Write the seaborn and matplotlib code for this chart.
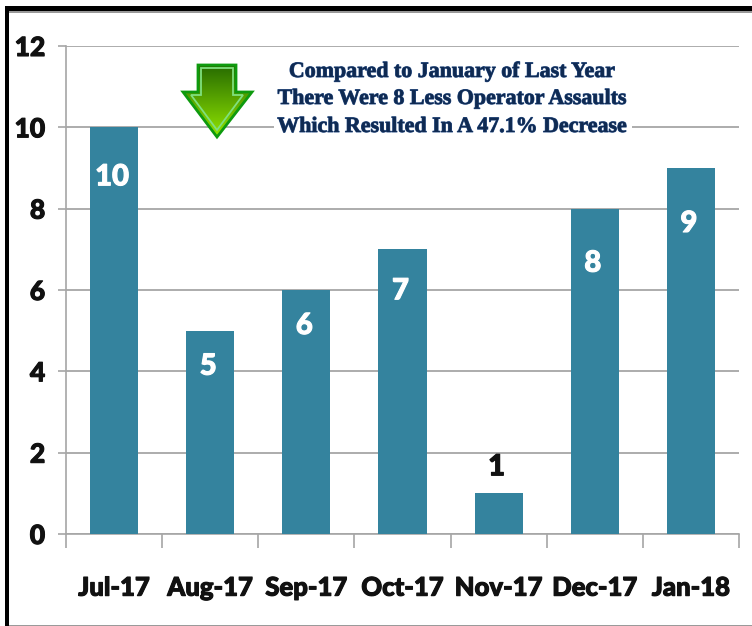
import numpy as np
import pandas as pd
import matplotlib
matplotlib.use("Agg")
import matplotlib.pyplot as plt
import matplotlib.patheffects as pe
from matplotlib.patches import Polygon, Rectangle
import seaborn as sns

months = ["Jul-17", "Aug-17", "Sep-17", "Oct-17", "Nov-17", "Dec-17", "Jan-18"]
assaults = [10, 5, 6, 7, 1, 8, 9]
yticks = [0, 2, 4, 6, 8, 10, 12]
note = ["Compared to January of Last Year",
        "There Were 8 Less Operator Assaults",
        "Which Resulted In A 47.1% Decrease"]

sns.set_theme(style="white")
plt.rcParams["font.family"] = ["Lato", "DejaVu Sans"]

W, H = 752, 626
fig = plt.figure(figsize=(W / 100, H / 100), dpi=100, facecolor="white")
ax = fig.add_axes([66 / W, (H - 534) / H, (739 - 66) / W, (534 - 46) / H])

df = pd.DataFrame({"month": months, "assaults": assaults})
sns.barplot(data=df, x="month", y="assaults", color="#34839E", saturation=1,
            width=0.5, ax=ax, zorder=3, linewidth=0)
ax.set_xlim(-0.5, 6.5)
ax.set_ylim(0, 12)
ax.set_xlabel("")
ax.set_ylabel("")
ax.set_yticks(yticks)
ax.set_yticklabels([str(v) for v in yticks], fontsize=19, fontweight="black", color="#111111")
ax.set_xticks(range(len(months)))
ax.set_xticklabels(months, fontsize=18.5, fontweight="black", color="#111111")
for lab in ax.get_xticklabels() + ax.get_yticklabels():
    lab.set_path_effects([pe.withStroke(linewidth=0.8, foreground="#111111")])
ax.grid(axis="y", color="#a6a6a6", lw=1.3, zorder=0)
ax.set_axisbelow(True)
for s in ["top", "right"]:
    ax.spines[s].set_visible(False)
for s in ["left", "bottom"]:
    ax.spines[s].set_color("#a6a6a6")
    ax.spines[s].set_linewidth(1.2)
ax.tick_params(axis="y", length=6, width=1.2, color="#a6a6a6", left=True, pad=9)
ax.tick_params(axis="x", which="major", length=0, pad=30)
ax.set_xticks(np.arange(-0.5, 7, 1), minor=True)
ax.tick_params(axis="x", which="minor", length=10, width=1.2, color="#a6a6a6", bottom=True)

# value labels: offset below the bar top, as placed by hand in the reference
drop_px = {10: 50, 5: 36, 6: 36, 7: 42, 8: 55, 9: 56, 1: -26}
for i, v in enumerate(assaults):
    col = "#111111" if v == 1 else "white"
    t = ax.annotate(str(v), (i, v), xytext=(-2, -drop_px[v]), textcoords="offset pixels",
                    ha="center", va="center", fontsize=21, fontweight="black",
                    color=col, zorder=5)
    t.set_path_effects([pe.withStroke(linewidth=0.8, foreground=col)])

# annotation text
to_fig = lambda x, y: (x / W, 1 - y / H)
for txt, yy in zip(note, [72, 99, 127]):
    x, y = to_fig(453, yy)
    t = fig.text(x, y, txt, ha="center", va="center", fontsize=15.8, fontweight="bold",
                 family=["Liberation Serif", "DejaVu Serif"], color="#0F2A52", zorder=10,
                 bbox=dict(facecolor="white", edgecolor="none", pad=2.5) if yy == 127 else None)
    t.set_path_effects([pe.withStroke(linewidth=0.7, foreground="#2A4F86")])

# gradient arrow
overlay = fig.add_axes([0, 0, 1, 1], facecolor="none")
overlay.set_xlim(0, W)
overlay.set_ylim(H, 0)
overlay.axis("off")
outer = [(198, 65), (236, 65), (236, 92), (252, 92), (217, 137), (183, 92), (198, 92)]
grad = np.linspace(0, 1, 128)[:, None, None] * np.array([[[0.42, 0.48, 0.0]]]) + np.array([[[0.15, 0.42, 0.0]]])
im = overlay.imshow(grad, extent=(183, 253, 137, 65), aspect="auto", zorder=2)
im.set_clip_path(Polygon(outer, transform=overlay.transData))
overlay.set_xlim(0, W)
overlay.set_ylim(H, 0)
overlay.add_patch(Polygon(outer, closed=True, fill=False, ec="#0E9A0E", lw=2, joinstyle="miter", zorder=3))
inner = [(201, 68), (233, 68), (233, 95), (243, 95), (217, 130), (191, 95), (201, 95)]
overlay.add_patch(Polygon(inner, closed=True, fill=False, ec="#7FE07F", lw=1.3, joinstyle="miter", zorder=3))

# picture frame
overlay.add_patch(Rectangle((5, 6), 4, 620, fc="black", ec="none", zorder=6))
overlay.add_patch(Rectangle((5, 6), 747, 5, fc="black", ec="none", zorder=6))
overlay.add_patch(Rectangle((9, 11), 743, 1.5, fc="#999999", ec="none", zorder=6))
overlay.add_patch(Rectangle((9, 624.5), 743, 1.5, fc="#9a9a9a", ec="none", zorder=6))

fig.savefig("out.png", dpi=100)
